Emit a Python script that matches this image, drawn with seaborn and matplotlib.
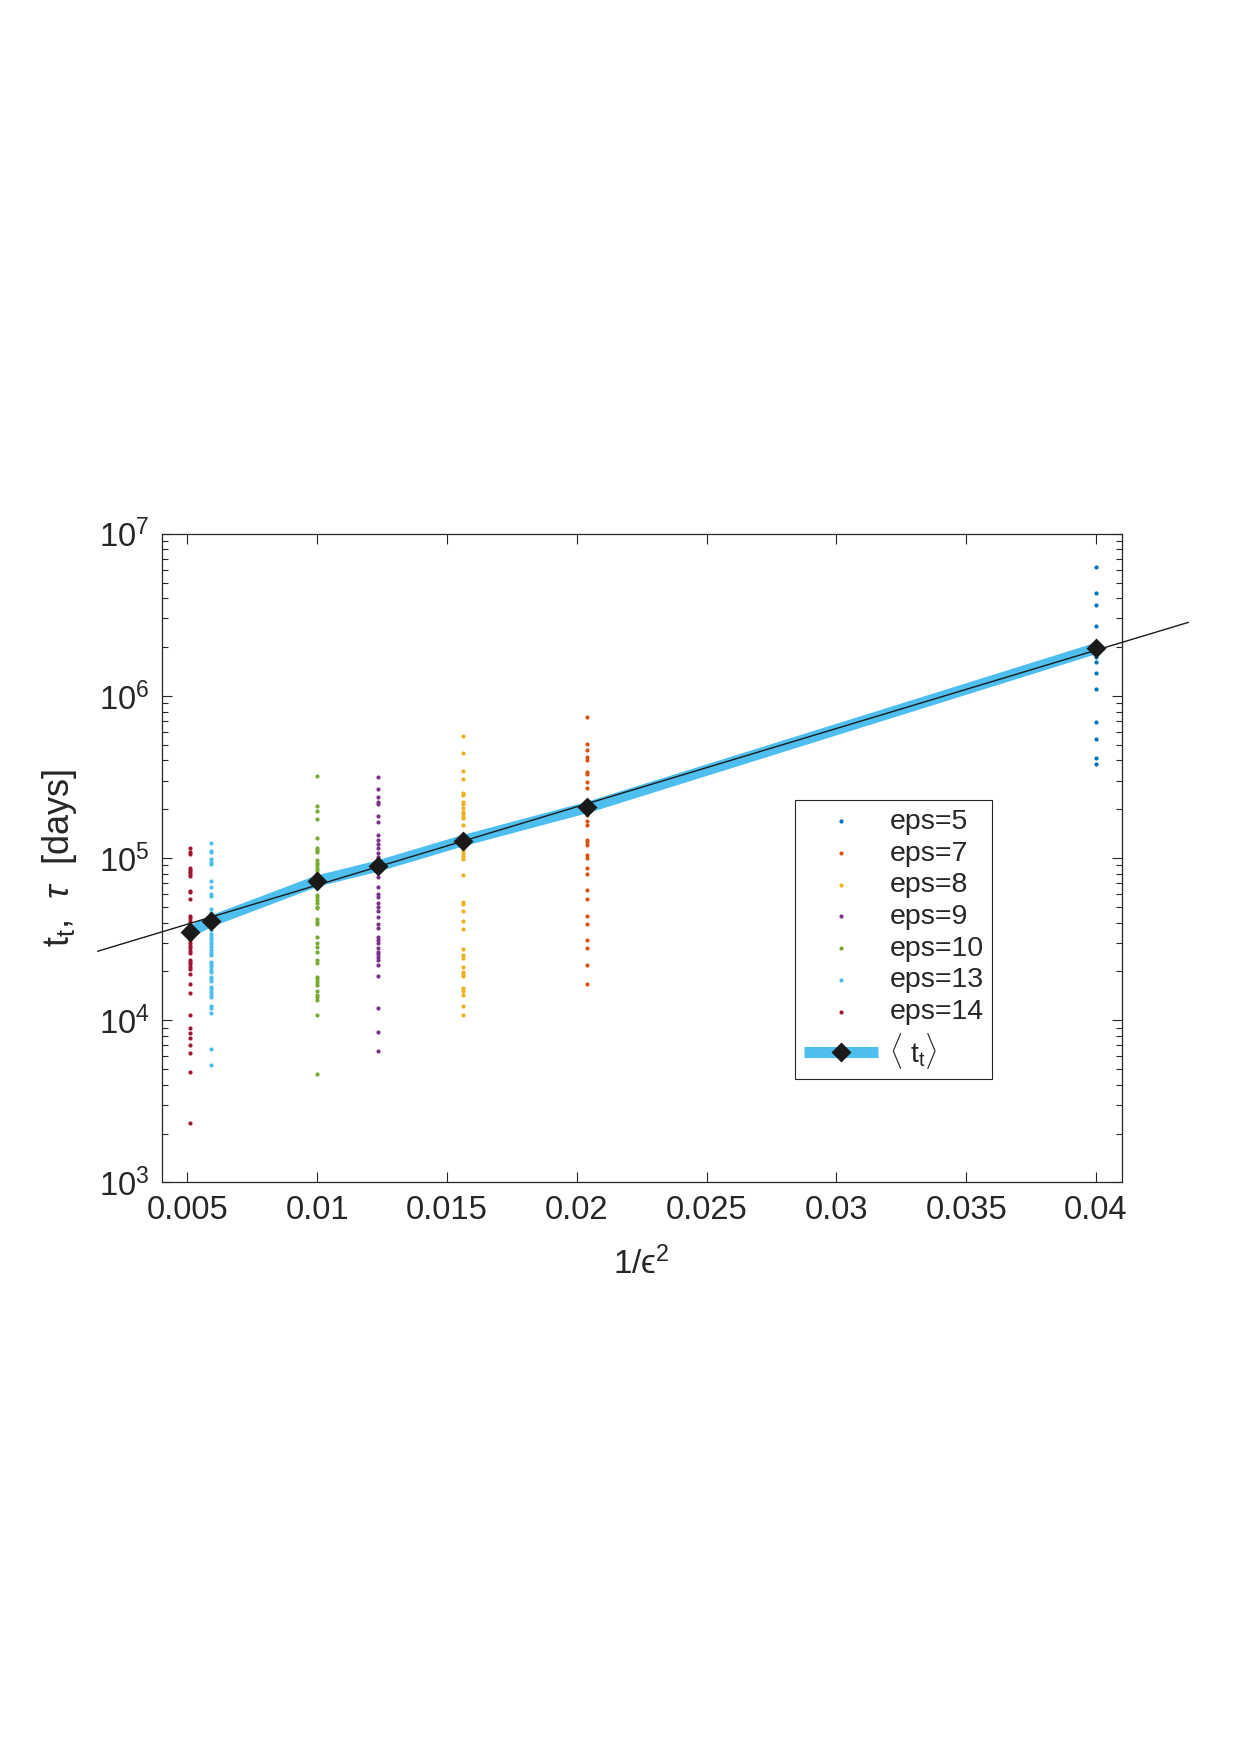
import numpy as np
import pandas as pd
import matplotlib
matplotlib.use("Agg")
import matplotlib.pyplot as plt
import seaborn as sns

# eps values and the single-run times t_t [days]
eps_values = [5, 7, 8, 9, 10, 13, 14]

tt_eps5 = [6.27e6, 4.33e6, 3.61e6, 2.68e6, 1.96e6, 1.79e6, 1.73e6, 1.61e6, 1.38e6,
           1.10e6, 6.93e5, 5.40e5, 4.12e5, 3.82e5]
tt_eps7 = [745000, 502000, 464000, 422000, 402000, 341000, 330000, 296000, 269000,
           184000, 168000, 160000, 130000, 126000, 120000, 104000, 99500, 87200,
           79300, 63500, 56200, 43900, 39200, 31200, 28000, 21900, 16700]
tt_eps8 = [568000, 444000, 346000, 309000, 253000, 243000, 222000, 215000, 203000,
           193000, 186000, 180000, 176000, 160000, 112000, 107000, 103000, 98100,
           78600, 53800, 52000, 47300, 41100, 36300, 27400, 25200, 24100, 21400,
           19900, 19300, 18600, 15700, 15200, 14300, 12200, 10800]
tt_eps9 = [314000, 265000, 239000, 222000, 215000, 182000, 167000, 138000, 129000,
           122000, 115000, 108000, 101000, 88500, 76800, 66600, 60000, 57200, 52500,
           50100, 47300, 43500, 39200, 36800, 32700, 31200, 30100, 27700, 26400,
           25500, 24400, 23500, 21900, 18800, 11900, 8450, 6430]
tt_eps10 = [322000, 210000, 195000, 173000, 133000, 115000, 112000, 109000, 97200,
            93600, 90500, 87200, 84300, 81200, 78600, 76000, 73200, 70500, 68200,
            65000, 59100, 57200, 55100, 52500, 50100, 48900, 42100, 40500, 39200,
            32400, 30100, 28100, 26200, 23500, 22600, 18400, 17900, 17300, 16500,
            15200, 14300, 13800, 13300, 10800, 4630]
tt_eps13 = [123000, 111000, 109000, 98100, 94900, 91800, 72100, 65900, 59900, 58300,
            48700, 45600, 43900, 39500, 37700, 36000, 34000, 32700, 31500, 30300,
            29300, 28400, 27100, 26100, 25200, 23000, 22400, 21800, 21200, 20400,
            19900, 18500, 18000, 17400, 16100, 15500, 14900, 14300, 13800, 12200,
            11900, 11000, 6610, 5260]
tt_eps14 = [115800, 109400, 105800, 87100, 84300, 82000, 79300, 77500, 62900, 61700,
            55600, 43900, 42400, 41100, 39600, 37700, 36300, 34800, 33500, 32400,
            31200, 29800, 28800, 27700, 26800, 26100, 23500, 22800, 22100, 21400,
            20800, 19300, 16700, 14800, 10700, 8910, 8300, 7730, 7030, 6240, 4790, 2310]

# mean <t_t> for each eps (same order as eps_values)
tt_mean = [1.96e6, 2.05e5, 1.28e5, 8.93e4, 7.21e4, 4.08e4, 3.51e4]

# fitted tau line, end points
fit_x = [0.00154, 0.04356]
fit_tau = [2.66e4, 2.84e6]

colors = ["#0072BD", "#D95319", "#EDB120", "#7E2F8E", "#77AC30", "#4DBEEE", "#A2142F"]
mean_color = "#4DBEEE"

all_tt = [tt_eps5, tt_eps7, tt_eps8, tt_eps9, tt_eps10, tt_eps13, tt_eps14]
rows = []
for e, vals in zip(eps_values, all_tt):
    for v in vals:
        rows.append({"eps": e, "x": 1.0 / e**2, "tt": v})
df = pd.DataFrame(rows)
df_mean = pd.DataFrame({"x": [1.0 / e**2 for e in eps_values], "tt": tt_mean})

sns.set_theme(style="ticks")
plt.rcParams["font.family"] = ["Liberation Sans", "DejaVu Sans"]
plt.rcParams["mathtext.fontset"] = "custom"
plt.rcParams["mathtext.rm"] = "Liberation Sans"
plt.rcParams["mathtext.it"] = "Liberation Sans:italic"
plt.rcParams["mathtext.bf"] = "Liberation Sans:bold"

fig = plt.figure(figsize=(12.4, 17.55), dpi=100)
ax = fig.add_axes([0.1304, 0.3263, 0.7742, 0.3696])

for e, c in zip(eps_values, colors):
    sub = df[df["eps"] == e]
    sns.scatterplot(data=sub, x="x", y="tt", color=c, s=9, linewidth=0,
                    label=f"eps={e}", ax=ax, zorder=2)

sns.lineplot(data=df_mean, x="x", y="tt", color=mean_color, linewidth=8,
             solid_capstyle="butt", marker="D", markersize=8,
             markerfacecolor="k", markeredgecolor="k", markeredgewidth=2,
             label=r"$\langle$ t$_\mathregular{t}\rangle$", ax=ax, zorder=3)

ax.plot(fit_x, fit_tau, color="k", linewidth=1, clip_on=False, zorder=4)

ax.set_yscale("log")
ax.set_xlim(0.00401, 0.04099)
ax.set_ylim(1e3, 1e7)
ax.set_xticks(np.arange(0.005, 0.0401, 0.005))
ax.set_xticklabels(["0.005", "0.01", "0.015", "0.02", "0.025", "0.03", "0.035", "0.04"])

ax.tick_params(which="both", direction="in", top=True, right=True, colors="#262626",
               labelsize=23.5, width=0.8)
ax.tick_params(which="major", length=7, pad=9)
ax.tick_params(which="minor", length=4)
for sp in ax.spines.values():
    sp.set_color("#262626")
    sp.set_linewidth(0.9)

ax.set_xlabel("1/\u03f5$^2$", fontsize=24, color="#262626", labelpad=15)
ax.set_ylabel(r"t$_\mathregular{t}$,  $\tau$  [days]", fontsize=26, color="#262626",
              labelpad=14)

leg = ax.legend(loc="upper left", bbox_to_anchor=(0.660, 0.589), borderaxespad=0,
                fontsize=20.5, frameon=True, fancybox=False, edgecolor="#262626",
                framealpha=1, handlelength=2.6, handletextpad=0.4, labelspacing=0.2,
                borderpad=0.3, markerscale=1.0)
leg.get_frame().set_linewidth(0.8)

fig.savefig("out.png", dpi=100)
